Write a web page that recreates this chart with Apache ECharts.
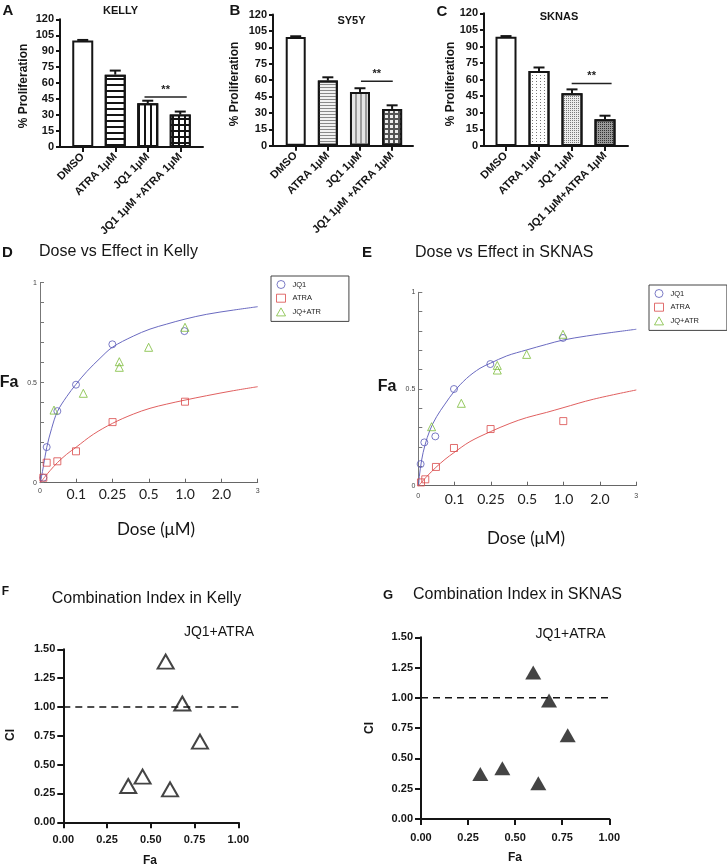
<!DOCTYPE html>
<html><head><meta charset="utf-8">
<script src="https://cdn.jsdelivr.net/npm/echarts@6/dist/echarts.min.js"></script>
<style>html,body{margin:0;padding:0;background:#fff}#c{width:727px;height:866px}</style>
</head><body><div id="c"></div><script>
// ================= DATA =================
const barCatsKelly = ['DMSO', 'ATRA 1μM', 'JQ1 1μM', 'JQ1 1μM +ATRA 1μM'];
const barCatsSY5Y  = ['DMSO', 'ATRA 1μM', 'JQ1 1μM', 'JQ1 1μM +ATRA 1μM'];
const barCatsSKNAS = ['DMSO', 'ATRA 1μM', 'JQ1 1μM', 'JQ1 1μM+ATRA 1μM'];
const kellyProlif    = [100, 68, 41, 30.5];
const kellyProlifErr = [0.6, 3.8, 2.5, 2.8];
const sy5yProlif     = [99.5, 59.6, 49.2, 33.7];
const sy5yProlifErr  = [0.6, 3.0, 3.4, 3.3];
const sknasProlif    = [98.8, 67.8, 47.6, 24.1];
const sknasProlifErr = [0.6, 3.2, 3.6, 3.3];
// significance bracket: [from, to, level]
const kellySig = [1.9, 3.2, 47];
const sy5ySig  = [2.03, 3.02, 59];
const sknasSig = [1.99, 3.2, 56.6];
const prolifTicks = [0, 15, 30, 45, 60, 75, 90, 105, 120];

// Dose-effect (x in dose-axis units, tick labels below)
const doseTickLabels = ['0', '0.1', '0.25', '0.5', '1.0', '2.0', '3'];
const kellyJQ1Dose   = [0.046, 0.092, 0.239, 0.496, 0.997, 1.99];
const kellyJQ1Fa     = [0.025, 0.178, 0.358, 0.49, 0.692, 0.758];
const kellyATRADose  = [0.046, 0.092, 0.239, 0.496, 1.0, 1.998];
const kellyATRAFa    = [0.025, 0.1, 0.107, 0.157, 0.303, 0.405];
const kellyComboDose = [0.193, 0.597, 1.093, 1.093, 1.497, 1.998];
const kellyComboFa   = [0.363, 0.447, 0.605, 0.577, 0.677, 0.777];
const kellyJQ1FitDose  = [0.005, 0.046, 0.092, 0.161, 0.239, 0.367, 0.496, 0.643, 0.827, 0.997, 1.286, 1.516, 1.746, 1.998, 2.297, 2.664, 3.0];
const kellyJQ1FitFa    = [0, 0.08, 0.175, 0.272, 0.355, 0.43, 0.492, 0.555, 0.622, 0.677, 0.733, 0.768, 0.793, 0.818, 0.842, 0.863, 0.88];
const kellyATRAFitDose = [0.005, 0.069, 0.138, 0.239, 0.367, 0.496, 0.735, 1.0, 1.286, 1.516, 1.746, 1.998, 2.297, 2.664, 3.0];
const kellyATRAFitFa   = [0, 0.03, 0.06, 0.1, 0.142, 0.177, 0.242, 0.297, 0.343, 0.372, 0.393, 0.413, 0.435, 0.46, 0.48];

const sknasJQ1Dose   = [0.032, 0.083, 0.234, 0.491, 0.991, 1.991];
const sknasJQ1Fa     = [0.112, 0.224, 0.255, 0.5, 0.629, 0.764];
const sknasATRADose  = [0.037, 0.096, 0.243, 0.491, 0.995, 1.995];
const sknasATRAFa    = [0.017, 0.033, 0.097, 0.195, 0.293, 0.334];
const sknasComboDose = [0.183, 0.592, 1.087, 1.087, 1.491, 1.991];
const sknasComboFa   = [0.305, 0.426, 0.622, 0.598, 0.679, 0.783];
const sknasJQ1FitDose  = [0.005, 0.014, 0.046, 0.092, 0.161, 0.252, 0.367, 0.491, 0.665, 0.849, 0.991, 1.216, 1.491, 1.766, 1.991, 2.317, 2.638, 3.0];
const sknasJQ1FitFa    = [0, 0.047, 0.133, 0.21, 0.288, 0.357, 0.422, 0.486, 0.555, 0.607, 0.633, 0.671, 0.702, 0.731, 0.753, 0.774, 0.791, 0.809];
const sknasATRAFitDose = [0.005, 0.115, 0.243, 0.367, 0.491, 0.711, 0.991, 1.261, 1.491, 1.766, 1.991, 2.408, 3.0];
const sknasATRAFitFa   = [0, 0.047, 0.095, 0.136, 0.171, 0.228, 0.279, 0.322, 0.352, 0.379, 0.403, 0.447, 0.495];

// Combination index
const kellyCIFa  = [0.585, 0.68, 0.781, 0.453, 0.371, 0.61];
const kellyCI    = [1.393, 1.03, 0.7, 0.396, 0.315, 0.286];
const sknasCIFa  = [0.596, 0.68, 0.779, 0.432, 0.315, 0.623];
const sknasCI    = [1.209, 0.978, 0.691, 0.419, 0.372, 0.295];
const ciRefLevel = 1.0;

// ================= STYLE =================
const AR = '"Liberation Sans", Arial, sans-serif';
const LATO = 'Lato, "Open Sans", sans-serif';
const INK = '#151515';
const pair = (xs, ys) => xs.map((x, i) => [x, ys[i]]);

const barStyles = {
  A: [
    { color: '#fff' },
    { color: '#fff', decal: { symbol: 'rect', symbolSize: 1, symbolKeepAspect: false, dashArrayX: [1, 0], dashArrayY: [2, 4], color: INK } },
    { color: '#fff', decal: { symbol: 'rect', symbolSize: 1, symbolKeepAspect: false, dashArrayX: [2, 4], dashArrayY: [1, 0], color: INK } },
    { color: INK, decal: { symbol: 'rect', symbolSize: 1, symbolKeepAspect: false, dashArrayX: [4, 2], dashArrayY: [4, 2], color: '#fff' } }
  ],
  B: [
    { color: '#fff' },
    { color: '#f2f2f2', decal: { symbol: 'rect', symbolSize: 1, symbolKeepAspect: false, dashArrayX: [1, 0], dashArrayY: [1, 2], color: '#8a8a8a' } },
    { color: '#e4e4e4', decal: { symbol: 'rect', symbolSize: 1, symbolKeepAspect: false, dashArrayX: [2, 3], dashArrayY: [1, 0], color: '#9a9a9a' } },
    { color: '#555', decal: { symbol: 'rect', symbolSize: 1, symbolKeepAspect: false, dashArrayX: [3, 2], dashArrayY: [3, 2], color: '#eee' } }
  ],
  C: [
    { color: '#fff' },
    { color: '#fff', decal: { symbol: 'rect', symbolSize: 1, symbolKeepAspect: false, dashArrayX: [1, 3], dashArrayY: [1, 2], color: '#777' } },
    { color: '#ececec', decal: { symbol: 'rect', symbolSize: 1, symbolKeepAspect: false, dashArrayX: [1, 1], dashArrayY: [1, 1], color: '#7a7a7a' } },
    { color: '#9a9a9a', decal: { symbol: 'rect', symbolSize: 1, symbolKeepAspect: false, dashArrayX: [1, 1], dashArrayY: [1, 1], color: '#333' } }
  ]
};

const grids = [
  { left: 60, top: 19.3, width: 143, height: 127.7 },
  { left: 273, top: 14.5, width: 140, height: 131.3 },
  { left: 484, top: 13.3, width: 144, height: 132.7 },
  { left: 40, top: 282.7, width: 217.7, height: 200 },
  { left: 418.3, top: 292.3, width: 218, height: 193.4 },
  { left: 63.3, top: 649.3, width: 175, height: 173 },
  { left: 421, top: 637.3, width: 188.3, height: 181.7 }
].map(g => Object.assign({ outerBoundsMode: 'none', containLabel: false }, g));

const xAxes = [], yAxes = [], series = [];

function barPanel(gi, cats, vals, errs, sig, styles, xmin, xmax, bw) {
  xAxes.push({
    type: 'value', gridIndex: gi, min: xmin, max: xmax,
    splitLine: { show: false },
    axisLine: { show: true, onZero: false, lineStyle: { color: INK, width: 2 } },
    axisTick: { show: true, customValues: [0, 1, 2, 3], length: 5, lineStyle: { color: INK, width: 2 } },
    axisLabel: { customValues: [0, 1, 2, 3], formatter: v => cats[Math.round(v)], rotate: 45, margin: 8,
      fontFamily: AR, fontWeight: 'bold', fontSize: 11, color: INK }
  });
  yAxes.push({
    type: 'value', gridIndex: gi, min: 0, max: prolifTicks[prolifTicks.length - 1], interval: prolifTicks[1] - prolifTicks[0],
    splitLine: { show: false },
    axisLine: { show: true, onZero: false, lineStyle: { color: INK, width: 2 } },
    axisTick: { show: true, length: 4, lineStyle: { color: INK, width: 2 } },
    axisLabel: { fontFamily: AR, fontWeight: 'bold', fontSize: 11, color: INK, margin: 6 }
  });
  const ai = xAxes.length - 1;
  series.push({
    type: 'bar', xAxisIndex: ai, yAxisIndex: ai, barWidth: bw, z: 2,
    data: vals.map((v, i) => ({ value: [i, v], itemStyle: Object.assign({ borderColor: INK, borderWidth: 2 }, styles[i]) }))
  });
  series.push({
    type: 'custom', xAxisIndex: ai, yAxisIndex: ai, z: 4,
    encode: { x: 0, y: 1 },
    data: vals.map((v, i) => [i, v, errs[i]]),
    renderItem: (params, api) => {
      const x = api.value(0), v = api.value(1), e = api.value(2);
      const p0 = api.coord([x, v]), p1 = api.coord([x, v + e]);
      return { type: 'group', children: [
        { type: 'line', shape: { x1: p0[0], y1: p0[1], x2: p1[0], y2: p1[1] }, style: { stroke: INK, lineWidth: 2 } },
        { type: 'line', shape: { x1: p1[0] - 5.5, y1: p1[1], x2: p1[0] + 5.5, y2: p1[1] }, style: { stroke: INK, lineWidth: 2 } }
      ] };
    }
  });
  series.push({
    type: 'custom', xAxisIndex: ai, yAxisIndex: ai, z: 4,
    encode: { x: [0, 1], y: 2 },
    data: [sig],
    renderItem: (params, api) => {
      const a = api.coord([api.value(0), api.value(2)]);
      const b = api.coord([api.value(1), api.value(2)]);
      return { type: 'group', children: [
        { type: 'line', shape: { x1: a[0], y1: a[1], x2: b[0], y2: b[1] }, style: { stroke: '#222', lineWidth: 1.5 } },
        { type: 'text', x: (a[0] + b[0]) / 2, y: a[1] - 7, style: { text: '**', align: 'center', verticalAlign: 'middle', font: 'bold 11px ' + AR, fill: '#222' } }
      ] };
    }
  });
}

barPanel(0, barCatsKelly, kellyProlif, kellyProlifErr, kellySig, barStyles.A, -0.7, 3.7, 21);
barPanel(1, barCatsSY5Y, sy5yProlif, sy5yProlifErr, sy5ySig, barStyles.B, -0.707, 3.65, 20);
barPanel(2, barCatsSKNAS, sknasProlif, sknasProlifErr, sknasSig, barStyles.C, -0.667, 3.697, 21);

const BLUE = '#5a5ab8', RED = '#d94a4a', GREEN = '#7cbb3a';
const BLUE_L = '#6a6ac0', RED_L = '#e06060';

function dosePanel(gi, pts, fits, xMargin) {
  xAxes.push({
    type: 'value', gridIndex: gi, min: 0, max: 3, interval: 0.5,
    splitLine: { show: false },
    axisLine: { show: true, onZero: false, lineStyle: { color: '#666', width: 1 } },
    axisTick: { show: true, inside: true, length: 4, lineStyle: { color: '#666' } },
    axisLabel: {
      margin: xMargin,
      formatter: v => { const i = Math.round(v / 0.5); const t = doseTickLabels[i]; return (i === 0 || i === 6) ? '{s|' + t + '}' : '{b|' + t + '}'; },
      rich: { s: { fontSize: 7, color: '#444', fontFamily: AR }, b: { fontSize: 14, color: '#222', fontFamily: LATO } }
    }
  });
  yAxes.push({
    type: 'value', gridIndex: gi, min: 0, max: 1, interval: 0.1,
    splitLine: { show: false },
    axisLine: { show: true, onZero: false, lineStyle: { color: '#777', width: 1 } },
    axisTick: { show: true, inside: true, length: 4, lineStyle: { color: '#777' } },
    axisLabel: { customValues: [0, 0.5, 1], formatter: v => (v === 0 ? '0' : v === 1 ? '1' : '0.5'), fontSize: 7, color: '#444', fontFamily: AR, margin: 3 }
  });
  const ai = xAxes.length - 1;
  fits.forEach(f => series.push({
    type: 'line', name: f.name, xAxisIndex: ai, yAxisIndex: ai, showSymbol: false, smooth: 0.35, z: 2,
    lineStyle: { color: f.color, width: 1 }, itemStyle: { color: f.color }, data: f.data
  }));
  pts.forEach(p => series.push({
    type: 'scatter', name: p.name, xAxisIndex: ai, yAxisIndex: ai, symbol: p.symbol, symbolSize: p.size, z: 3,
    itemStyle: { color: 'rgba(255,255,255,0)', borderColor: p.color, borderWidth: 1 }, data: p.data
  }));
}

dosePanel(3, [
  { name: 'JQ1', symbol: 'circle', size: 7, color: BLUE, data: pair(kellyJQ1Dose, kellyJQ1Fa) },
  { name: 'ATRA', symbol: 'rect', size: 7, color: RED, data: pair(kellyATRADose, kellyATRAFa) },
  { name: 'JQ+ATR', symbol: 'triangle', size: 8, color: GREEN, data: pair(kellyComboDose, kellyComboFa) }
], [
  { name: 'JQ1 fit', color: BLUE_L, data: pair(kellyJQ1FitDose, kellyJQ1FitFa) },
  { name: 'ATRA fit', color: RED_L, data: pair(kellyATRAFitDose, kellyATRAFitFa) }
], 5);

dosePanel(4, [
  { name: 'JQ1', symbol: 'circle', size: 7, color: BLUE, data: pair(sknasJQ1Dose, sknasJQ1Fa) },
  { name: 'ATRA', symbol: 'rect', size: 7, color: RED, data: pair(sknasATRADose, sknasATRAFa) },
  { name: 'JQ+ATR', symbol: 'triangle', size: 8, color: GREEN, data: pair(sknasComboDose, sknasComboFa) }
], [
  { name: 'JQ1 fit', color: BLUE_L, data: pair(sknasJQ1FitDose, sknasJQ1FitFa) },
  { name: 'ATRA fit', color: RED_L, data: pair(sknasATRAFitDose, sknasATRAFitFa) }
], 7);

function ciPanel(gi, fa, ci, filled, xMargin) {
  xAxes.push({
    type: 'value', gridIndex: gi, min: 0, max: 1, interval: 0.25,
    splitLine: { show: false },
    axisLine: { show: true, onZero: false, lineStyle: { color: INK, width: 2 } },
    axisTick: { show: true, length: 6, lineStyle: { color: INK, width: 2 } },
    axisLabel: { formatter: v => v.toFixed(2), fontFamily: AR, fontWeight: 'bold', fontSize: 11, color: INK, margin: xMargin }
  });
  yAxes.push({
    type: 'value', gridIndex: gi, min: 0, max: 1.5, interval: 0.25,
    splitLine: { show: false },
    axisLine: { show: true, onZero: false, lineStyle: { color: INK, width: 2 } },
    axisTick: { show: true, length: 6, lineStyle: { color: INK, width: 2 } },
    axisLabel: { formatter: v => v.toFixed(2), fontFamily: AR, fontWeight: 'bold', fontSize: 11, color: INK, margin: 8 }
  });
  const ai = xAxes.length - 1;
  series.push({
    type: 'line', xAxisIndex: ai, yAxisIndex: ai, showSymbol: false, z: 2,
    lineStyle: { color: INK, width: 1.5, type: [7, 5] },
    data: [[0, ciRefLevel], [1, ciRefLevel]]
  });
  series.push({
    type: 'scatter', xAxisIndex: ai, yAxisIndex: ai, symbol: 'triangle', symbolSize: [16, 14], z: 3,
    itemStyle: filled ? { color: INK } : { color: 'rgba(255,255,255,0)', borderColor: INK, borderWidth: 2 },
    data: pair(fa, ci)
  });
}
ciPanel(5, kellyCIFa, kellyCI, false, 12);
ciPanel(6, sknasCIFa, sknasCI, true, 13);

// ================= TEXT =================
function T(x, y, text, font, opts) {
  return Object.assign({ type: 'text', x, y, silent: true,
    style: { text, font, fill: INK, align: 'center', verticalAlign: 'middle' } }, opts || {});
}
function TL(x, y, text, font) {
  return { type: 'text', x, y, silent: true, style: { text, font, fill: INK, align: 'left', verticalAlign: 'middle' } };
}
const R90 = { rotation: Math.PI / 2 };
const graphics = [
  T(8, 10.5, 'A', 'bold 15px ' + AR),
  T(235, 11, 'B', 'bold 15px ' + AR),
  T(442, 12, 'C', 'bold 15px ' + AR),
  T(120.5, 11, 'KELLY', 'bold 11px ' + AR),
  T(351.5, 20.5, 'SY5Y', 'bold 11px ' + AR),
  T(559, 16.7, 'SKNAS', 'bold 11px ' + AR),
  T(24, 86, '% Proliferation', 'bold 12px ' + AR, R90),
  T(235, 84, '% Proliferation', 'bold 12px ' + AR, R90),
  T(451, 84, '% Proliferation', 'bold 12px ' + AR, R90),
  T(7.5, 252.5, 'D', 'bold 15px ' + AR),
  TL(39, 252, 'Dose vs Effect in Kelly', '16px ' + AR),
  T(367, 253, 'E', 'bold 15px ' + AR),
  TL(415, 253, 'Dose vs Effect in SKNAS', '16px ' + AR),
  T(9, 383, 'Fa', 'bold 16px ' + AR),
  T(387, 387, 'Fa', 'bold 16px ' + AR),
  T(156, 530, 'Dose (μM)', '17px ' + LATO),
  T(526, 539, 'Dose (μM)', '17px ' + LATO),
  T(5.5, 592, 'F', 'bold 12px ' + AR),
  TL(51.7, 599, 'Combination Index in Kelly', '16px ' + AR),
  T(388, 595, 'G', 'bold 13px ' + AR),
  TL(413, 595, 'Combination Index in SKNAS', '16px ' + AR),
  T(219, 632, 'JQ1+ATRA', '14px ' + AR),
  T(570.5, 634, 'JQ1+ATRA', '14px ' + AR),
  T(11, 735, 'CI', 'bold 12px ' + AR, R90),
  T(370, 728, 'CI', 'bold 12px ' + AR, R90),
  T(150, 861, 'Fa', 'bold 12px ' + AR),
  T(515, 858, 'Fa', 'bold 12px ' + AR)
];

const legendNames = ['JQ1', 'ATRA', 'JQ+ATR'];
function legendAt(left, top) {
  return {
    data: legendNames, left, top, orient: 'vertical', selectedMode: false,
    itemWidth: 9, itemHeight: 8, itemGap: 4.7,
    padding: [4, 28, 5, 5], borderColor: '#444', borderWidth: 1, borderRadius: 0,
    itemStyle: { borderWidth: 1 },
    textStyle: { fontSize: 7.5, color: '#222', fontFamily: AR, padding: [0, 0, 0, 2] }
  };
}

const chart = echarts.init(document.getElementById('c'), null, { renderer: 'canvas' });
chart.setOption({
  animation: false,
  backgroundColor: '#fff',
  grid: grids,
  xAxis: xAxes,
  yAxis: yAxes,
  legend: [legendAt(271, 276), legendAt(649, 285)],
  series,
  graphic: graphics
});
</script></body></html>
